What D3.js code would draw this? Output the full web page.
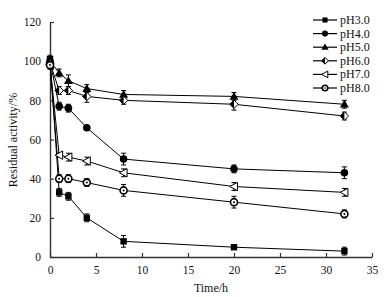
<!DOCTYPE html>
<html><head><meta charset="utf-8">
<script src="https://cdn.jsdelivr.net/npm/d3@7"></script>
<style>body{margin:0;background:#fff}svg{display:block}</style>
</head><body>
<script>
const times = [0, 1, 2, 4, 8, 20, 32];
const seriesNames = ["pH3.0", "pH4.0", "pH5.0", "pH6.0", "pH7.0", "pH8.0"];
const pH3 = [101, 33, 31, 20, 8, 5, 3];
const pH4 = [100, 77, 76, 66, 50, 45, 43];
const pH5 = [100, 94, 90, 86, 83, 82, 78];
const pH6 = [99, 85, 85, 82, 80, 78, 72];
const pH7 = [98, 52, 51, 49, 43, 36, 33];
const pH8 = [98, 40, 40, 38, 34, 28, 22];
const err3 = [2, 2, 2, 2, 3, 1, 2];
const err4 = [2, 2, 2, 1, 3, 2, 3];
const err5 = [2, 2, 3, 2, 2, 2, 2];
const err6 = [2, 2, 2, 3, 2, 3, 2];
const err7 = [2, 1, 2, 2, 2, 2, 2];
const err8 = [2, 2, 2, 2, 3, 3, 2];
const xTicks = [0, 5, 10, 15, 20, 25, 30, 35];
const yTicks = [0, 20, 40, 60, 80, 100, 120];

const W = 386, H = 297;
const svg = d3.select("body").append("svg").attr("width", W).attr("height", H)
  .style("font-family", "'Liberation Serif','Times New Roman',serif");

const x = d3.scaleLinear().domain([0, 35]).range([50, 372]);
const y = d3.scaleLinear().domain([0, 120]).range([257, 22]);

const series = [
  {name: seriesNames[0], v: pH3, e: err3, shape: "square"},
  {name: seriesNames[1], v: pH4, e: err4, shape: "circle"},
  {name: seriesNames[2], v: pH5, e: err5, shape: "triangle"},
  {name: seriesNames[3], v: pH6, e: err6, shape: "diamond"},
  {name: seriesNames[4], v: pH7, e: err7, shape: "ltri"},
  {name: seriesNames[5], v: pH8, e: err8, shape: "ocircle"}
];

function drawMarker(g, shape, cx, cy, k) {
  k = k || 1;
  if (shape === "square") {
    g.append("rect").attr("x", cx - 3.2*k).attr("y", cy - 3.2*k).attr("width", 6.4*k).attr("height", 6.4*k).attr("fill", "#000");
  } else if (shape === "circle") {
    g.append("circle").attr("cx", cx).attr("cy", cy).attr("r", 3.8*k).attr("fill", "#000");
  } else if (shape === "triangle") {
    g.append("path").attr("d", `M${cx},${cy-4.5*k}L${cx+4.5*k},${cy+3.3*k}L${cx-4.5*k},${cy+3.3*k}Z`).attr("fill", "#000");
  } else if (shape === "diamond") {
    g.append("path").attr("d", `M${cx},${cy-4.2*k}L${cx+4.2*k},${cy}L${cx},${cy+4.2*k}L${cx-4.2*k},${cy}Z`).attr("fill", "#fff").attr("stroke", "#000").attr("stroke-width", 1);
    g.append("path").attr("d", `M${cx},${cy-4.2*k}L${cx-4.2*k},${cy}L${cx},${cy+4.2*k}Z`).attr("fill", "#000");
  } else if (shape === "ltri") {
    g.append("path").attr("d", `M${cx-4.2*k},${cy}L${cx+3.5*k},${cy-4.2*k}L${cx+3.5*k},${cy+4.2*k}Z`).attr("fill", "#fff").attr("stroke", "#000").attr("stroke-width", 1);
  } else if (shape === "ocircle") {
    g.append("circle").attr("cx", cx).attr("cy", cy).attr("r", 3.5*k).attr("fill", "#fff").attr("stroke", "#000").attr("stroke-width", 1.6);
    g.append("circle").attr("cx", cx).attr("cy", cy).attr("r", 1*k).attr("fill", "#000");
  }
}

// axes
const xAxis = d3.axisBottom(x).tickValues(xTicks).tickSizeInner(-4).tickSizeOuter(0).tickPadding(9);
const yAxis = d3.axisLeft(y).tickValues(yTicks).tickSizeInner(-4).tickSizeOuter(0).tickPadding(9);
const gx = svg.append("g").attr("transform", "translate(0,257)").call(xAxis);
const gy = svg.append("g").attr("transform", "translate(50,0)").call(yAxis);
[gx, gy].forEach(g => {
  g.select(".domain").attr("stroke", "#333").attr("stroke-width", 1.4);
  g.selectAll(".tick line").attr("stroke", "#333").attr("stroke-width", 1.2);
  g.selectAll(".tick text").attr("fill", "#111").style("font-size", "11.5px").style("font-family", "'Liberation Serif',serif");
});
gx.selectAll(".tick text").attr("dy", "0.71em");

// lines
const line = d3.line().x((d, i) => x(times[i])).y(d => y(d));
series.forEach(s => {
  svg.append("path").datum(s.v).attr("d", line).attr("fill", "none").attr("stroke", "#000").attr("stroke-width", 1);
});
// error bars + markers
series.forEach(s => {
  const g = svg.append("g");
  s.v.forEach((v, i) => {
    const cx = x(times[i]);
    const y1 = y(v + s.e[i]), y2 = y(v - s.e[i]);
    g.append("line").attr("x1", cx).attr("x2", cx).attr("y1", y1).attr("y2", y2).attr("stroke", "#000").attr("stroke-width", 1);
    g.append("line").attr("x1", cx - 2.5).attr("x2", cx + 2.5).attr("y1", y1).attr("y2", y1).attr("stroke", "#000").attr("stroke-width", 1);
    g.append("line").attr("x1", cx - 2.5).attr("x2", cx + 2.5).attr("y1", y2).attr("y2", y2).attr("stroke", "#000").attr("stroke-width", 1);
    drawMarker(g, s.shape, cx, y(v));
  });
});

// legend
const lg = svg.append("g");
series.forEach((s, i) => {
  const ly = 20 + i * 13.6;
  lg.append("line").attr("x1", 313).attr("x2", 337).attr("y1", ly).attr("y2", ly).attr("stroke", "#000").attr("stroke-width", 1.2);
  drawMarker(lg, s.shape, 325, ly, 0.8);
  lg.append("text").attr("x", 340).attr("y", ly + 4).text(s.name).style("font-size", "12px").attr("fill", "#111");
});

// axis titles
svg.append("text").attr("x", 211).attr("y", 292).attr("text-anchor", "middle").text("Time/h").style("font-size", "12px").attr("fill", "#111");
svg.append("text").attr("transform", "translate(17,140) rotate(-90)").attr("text-anchor", "middle").text("Residual activity/%").style("font-size", "12px").attr("fill", "#111");
</script>
</body></html>
